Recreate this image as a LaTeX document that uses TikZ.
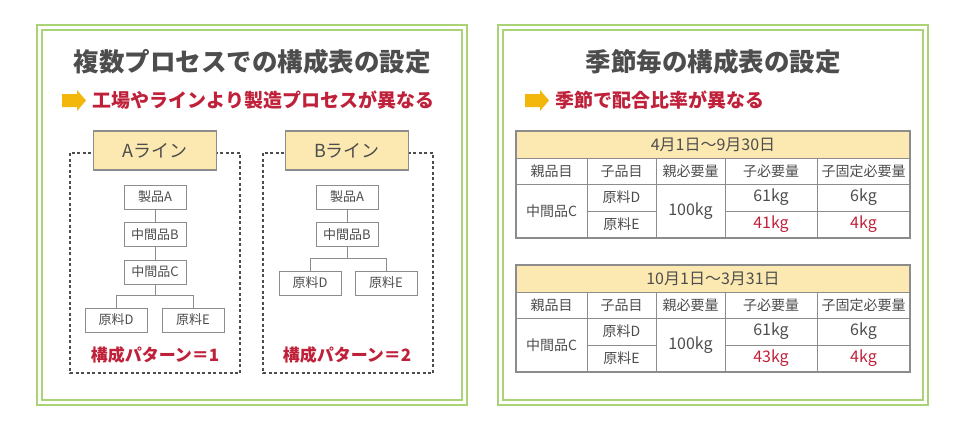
\documentclass[tikz,border=0pt]{standalone}
\usepackage{fontspec}
\setmainfont{Noto Sans CJK JP}
\usetikzlibrary{calc}
\definecolor{frgreen}{HTML}{A9D375}
\definecolor{dkgray}{HTML}{4D4D4D}
\definecolor{lngray}{HTML}{8C8C8C}
\definecolor{bordred}{HTML}{C0213A}
\definecolor{cream}{HTML}{FCE9B1}
\definecolor{amber}{HTML}{F3B60A}

\begin{document}
\begin{tikzpicture}[
  x=1pt, y=-1pt,
  frame/.style={frgreen, line width=1.6pt},
  title/.style={dkgray, font=\fontsize{25.5}{30}\selectfont\bfseries},
  subtitle/.style={bordred, anchor=west, font=\fontsize{19}{23}\selectfont\bfseries},
  linebox/.style={draw=lngray, line width=1.3pt, fill=cream, minimum width=123pt,
    minimum height=39pt, text=dkgray, font=\fontsize{18}{22}\selectfont},
  item/.style={draw=lngray, line width=1pt, fill=white, minimum width=62pt,
    minimum height=24pt, inner sep=0pt, text=dkgray, font=\fontsize{13}{16}\selectfont},
  pattern/.style={bordred, font=\fontsize{17}{20}\selectfont\bfseries},
  cell/.style={text=dkgray, font=\fontsize{14}{17}\selectfont},
  value/.style={text=dkgray, font=\fontsize{16}{19}\selectfont},
  link/.style={lngray, line width=1pt}
]

\useasboundingbox (0,0) rectangle (966,431);

% ── Panel frames ──
\draw[frame] (37,25) rectangle (467,405);
\draw[frame] (42,30) rectangle (462,400);
\draw[frame] (498,25) rectangle (928,405);
\draw[frame] (503,30) rectangle (923,400);

% ── Titles ──
\node[title] (ttlL) at (252,62) {複数プロセスでの構成表の設定};
\node[title] (ttlR) at (713,62) {季節毎の構成表の設定};

% Yellow arrows in front of the red lines
\foreach \ax in {62,525}
  \fill[amber] (\ax,94) -- ++(15,0) -- ++(0,-4) -- ++(9,10.5) -- ++(-9,10.5)
    -- ++(0,-4) -- ++(-15,0) -- cycle;
\node[subtitle] (subL) at (89,100.5) {工場やラインより製造プロセスが異なる};
\node[subtitle] (subR) at (552,100.5) {季節で配合比率が異なる};

% ── Dashed line groups ──
\draw[dkgray, line width=1.4pt, dash pattern=on 3pt off 2.5pt] (70,153) rectangle (240,373);
\draw[dkgray, line width=1.4pt, dash pattern=on 3pt off 2.5pt] (263,153) rectangle (433,373);

\node[linebox] (lineA) at (155,150.5) {Aライン};
\node[linebox] (lineB) at (347,150.5) {Bライン};

% ── Aライン tree ──
\node[item] (aA) at (155,197) {製品A};
\node[item] (aB) at (155,234.5) {中間品B};
\node[item] (aC) at (155,272) {中間品C};
\node[item] (aD) at (116,320) {原料D};
\node[item] (aE) at (193,320) {原料E};
\draw[link] (aA) -- (aB);
\draw[link] (aB) -- (aC);
\draw[link] (aC.south) -- ++(0,11) -| (aD.north);
\draw[link] (aC.south) -- ++(0,11) -| (aE.north);
\node[pattern] (patA) at (155,355) {構成パターン＝1};

% ── Bライン tree ──
\node[item] (bA) at (347,197) {製品A};
\node[item] (bB) at (347,234.5) {中間品B};
\node[item] (bD) at (310,283) {原料D};
\node[item] (bE) at (386,283) {原料E};
\draw[link] (bA) -- (bB);
\draw[link] (bB.south) -- ++(0,11) -| (bD.north);
\draw[link] (bB.south) -- ++(0,11) -| (bE.north);
\node[pattern] (patB) at (347,355) {構成パターン＝2};

% ── Season tables ──
\foreach \ty/\period/\val/\tb in {131/4月1日〜9月30日/41kg/tA, 265/10月1日〜3月31日/43kg/tB} {
  \begin{scope}[shift={(0,\ty)}]
    \fill[cream] (516,0) rectangle (910,27);
    \draw[lngray, line width=1pt] (516,27) -- (910,27) (516,53) -- (910,53)
      (587,80) -- (656,80) (725,80) -- (910,80);
    \foreach \cx in {587,656,725,817}
      \draw[lngray, line width=1pt] (\cx,27) -- (\cx,107);
    \draw[lngray, line width=1.3pt] (516,0) rectangle (910,107);
    \node[value] (\tb-head) at (713,13.5) {\period};
    \node[cell] (\tb-h1) at (551.5,40) {親品目};
    \node[cell] (\tb-h2) at (621.5,40) {子品目};
    \node[cell] (\tb-h3) at (690.5,40) {親必要量};
    \node[cell] (\tb-h4) at (771,40) {子必要量};
    \node[cell] (\tb-h5) at (863.5,40) {子固定必要量};
    \node[cell] (\tb-par) at (551.5,80) {中間品C};
    \node[cell] (\tb-cD) at (621.5,66.5) {原料D};
    \node[cell] (\tb-cE) at (621.5,93.5) {原料E};
    \node[value] (\tb-qty) at (690.5,80) {100kg};
    \node[value] (\tb-nD) at (771,66.5) {61kg};
    \node[value] (\tb-fD) at (863.5,66.5) {6kg};
    \node[value, text=bordred] (\tb-nE) at (771,93.5) {\val};
    \node[value, text=bordred] (\tb-fE) at (863.5,93.5) {4kg};
  \end{scope}
}

\end{tikzpicture}
\end{document}
